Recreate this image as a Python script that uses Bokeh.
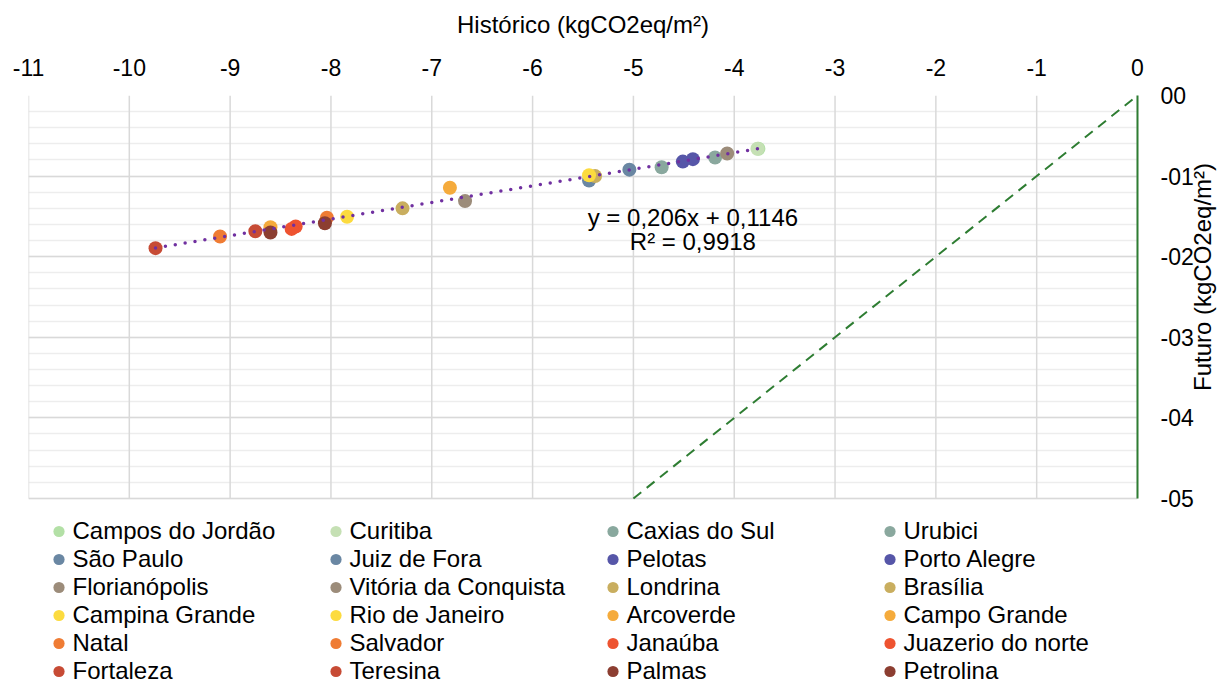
import math
import numpy as np
from bokeh.plotting import figure
from bokeh.models import Legend, LegendItem, FixedTicker, Label
from bokeh.embed import file_html
from bokeh.resources import INLINE

# ---------------- data ----------------
cities = [
    "Campos do Jordão", "Curitiba", "Caxias do Sul", "Urubici",
    "São Paulo", "Juiz de Fora", "Pelotas", "Porto Alegre",
    "Florianópolis", "Vitória da Conquista", "Londrina", "Brasília",
    "Campina Grande", "Rio de Janeiro", "Arcoverde", "Campo Grande",
    "Natal", "Salvador", "Janaúba", "Juazerio do norte",
    "Fortaleza", "Teresina", "Palmas", "Petrolina",
]
historico = [
    -3.76, -3.77, -4.72, -4.19,
    -5.44, -5.04, -4.51, -4.41,
    -4.07, -6.67, -5.38, -7.29,
    -5.44, -7.84, -6.82, -8.60,
    -9.10, -8.04, -8.35, -8.39,
    -8.75, -9.74, -8.60, -8.06,
]
futuro = [
    -0.66, -0.66, -0.89, -0.77,
    -1.055, -0.92, -0.82, -0.79,
    -0.72, -1.31, -1.00, -1.40,
    -0.99, -1.505, -1.145, -1.635,
    -1.75, -1.517, -1.625, -1.655,
    -1.684, -1.894, -1.70, -1.585,
]
colors = [
    "#B3E0A6", "#C5E0B4", "#89A89E", "#8AA89E",
    "#6A87A3", "#6A87A3", "#5656A8", "#5656A8",
    "#9C8C7A", "#9C8C7A", "#C9AE5F", "#C9AE5F",
    "#FCDB3F", "#FCDB3F", "#F5AB3C", "#F5AB3C",
    "#EF7C34", "#EF7C34", "#EE5330", "#EE5330",
    "#C74B35", "#C74B35", "#8C3E31", "#8C3E31",
]
x_ticks = list(range(-11, 1))
x_tick_labels = [str(t) for t in x_ticks]
y_ticks = [0, -1, -2, -3, -4, -5]
y_tick_labels = ["00", "-01", "-02", "-03", "-04", "-05"]
trend_slope = 0.206
trend_intercept = 0.1146
trend_r2 = 0.9918
eq_text = "y = 0,206x + 0,1146"
r2_text = "R² = 0,9918"
x_title = "Histórico (kgCO2eq/m²)"
y_title = "Futuro (kgCO2eq/m²)"

FONT = "Liberation Sans"
TICK_FS = "23px"
FS = "24px"
GREEN = "#2E7D32"
GRID = "#D9D9D9"
NCOLS = 4

x_lo, x_hi = min(x_ticks), max(x_ticks)
y_lo, y_hi = min(y_ticks), max(y_ticks)
# the frame runs on below the plot area so that the legend can sit inside it
y_frame_lo = y_lo - 2.333

p = figure(width=1232, height=686, x_range=(x_lo, x_hi),
           y_range=(y_frame_lo, y_hi),
           x_axis_location="above", y_axis_location="right",
           output_backend="svg", toolbar_location=None,
           min_border_left=28, min_border_top=95, min_border_right=95,
           min_border_bottom=0)
p.outline_line_color = None

# axes
p.xaxis.ticker = FixedTicker(ticks=x_ticks)
p.xaxis.major_label_overrides = {t: l for t, l in zip(x_ticks, x_tick_labels)}
p.xaxis.axis_line_color = None
p.xaxis.major_tick_line_color = None
p.xaxis.minor_tick_line_color = None
p.xaxis.major_label_standoff = 14
p.xaxis.major_label_text_font = FONT
p.xaxis.major_label_text_font_size = TICK_FS
p.xaxis.major_label_text_color = "#000000"
p.xaxis.axis_label = x_title
p.xaxis.axis_label_text_font = FONT
p.xaxis.axis_label_text_font_size = FS
p.xaxis.axis_label_text_font_style = "normal"
p.xaxis.axis_label_text_color = "#000000"
p.xaxis.axis_label_standoff = 18

minor = [round(v, 1) for v in np.arange(y_lo, y_hi + 0.01, 0.2)]
p.yaxis.ticker = FixedTicker(ticks=y_ticks, minor_ticks=minor)
p.yaxis.bounds = (y_lo, y_hi)
p.yaxis.major_label_overrides = {t: l for t, l in zip(y_ticks, y_tick_labels)}
p.yaxis.axis_line_color = GREEN
p.yaxis.axis_line_width = 2
p.yaxis.major_tick_line_color = None
p.yaxis.minor_tick_line_color = None
p.yaxis.major_label_standoff = 17
p.yaxis.major_label_text_font = FONT
p.yaxis.major_label_text_font_size = TICK_FS
p.yaxis.major_label_text_color = "#000000"
p.yaxis.axis_label = y_title
p.yaxis.axis_label_text_font = FONT
p.yaxis.axis_label_text_font_size = FS
p.yaxis.axis_label_text_font_style = "normal"
p.yaxis.axis_label_text_color = "#000000"
p.yaxis.axis_label_standoff = 6
p.yaxis.axis_label_orientation = math.pi / 2

# grids
p.xgrid.visible = False
p.ygrid.grid_line_color = GRID
p.ygrid.grid_line_width = 1.5
p.ygrid.minor_grid_line_color = "#EDEDED"
p.ygrid.minor_grid_line_width = 1.5
# vertical grid lines limited to the plot area
p.segment(x0=x_ticks, y0=[y_lo] * len(x_ticks), x1=x_ticks,
          y1=[y_hi] * len(x_ticks), line_color=GRID, line_width=1.5)

# y = x reference line over the plot area
ref = [y_lo, y_hi]
p.line(ref, ref, line_color=GREEN, line_width=2, line_dash="10 7")

# points
items = []
for c, hx, fy, col in zip(cities, historico, futuro, colors):
    r = p.scatter([hx], [fy], size=14, fill_color=col, line_color=None)
    items.append(LegendItem(label=c, renderers=[r]))

# trendline
xs = np.array([min(historico), max(historico)])
ys = trend_slope * xs + trend_intercept
p.line(xs, ys, line_color="#7030A0", line_width=3.5, line_dash="0 10",
       line_cap="round")

p.add_layout(Label(x=-4.41, y=-1.51, text=eq_text, text_align="center",
                   text_baseline="middle", text_font=FONT,
                   text_font_size=FS, text_color="#000000"))
p.add_layout(Label(x=-4.41, y=-1.81, text=r2_text, text_align="center",
                   text_baseline="middle", text_font=FONT,
                   text_font_size=FS, text_color="#000000"))

# legend: column-major order so that the display reads row by row
nrows = math.ceil(len(items) / NCOLS)
ordered = [items[r * NCOLS + c] for c in range(NCOLS) for r in range(nrows)
           if r * NCOLS + c < len(items)]
legend = Legend(items=ordered, nrows=nrows, orientation="vertical",
                location=(15.5, 1),
                label_text_font=FONT, label_text_font_size=FS,
                label_text_color="#000000",
                glyph_width=29, glyph_height=28, label_standoff=0,
                label_width=248, label_height=28, spacing=0,
                padding=0, margin=0, border_line_color=None,
                background_fill_alpha=0)
p.add_layout(legend)

open("out.html", "w").write(file_html(p, INLINE))
